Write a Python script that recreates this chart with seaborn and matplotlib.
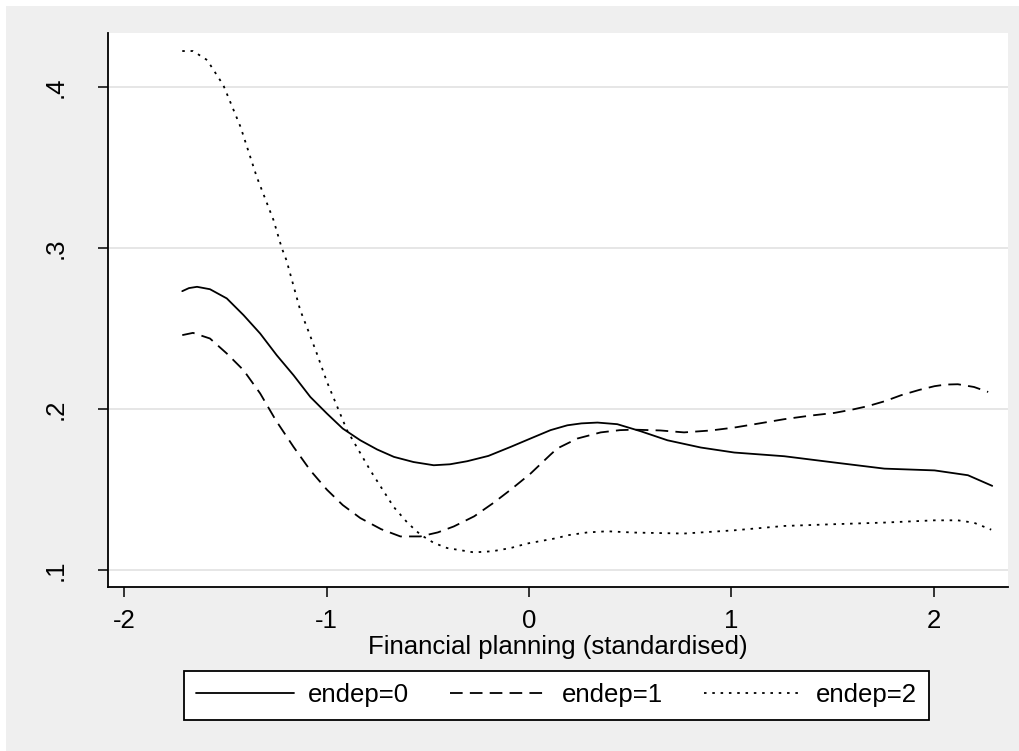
import pandas as pd
import matplotlib
matplotlib.use("Agg")
import matplotlib.pyplot as plt
from matplotlib.patches import Rectangle
import seaborn as sns

# values
x_endep0 = [-1.713, -1.68, -1.64, -1.576, -1.493, -1.41, -1.328, -1.246, -1.163, -1.08,
            -0.998, -0.92, -0.833, -0.75, -0.667, -0.57, -0.47, -0.39, -0.305, -0.2,
            -0.09, 0.008, 0.107, 0.19, 0.26, 0.339, 0.437, 0.553, 0.685, 0.85,
            1.015, 1.262, 1.51, 1.757, 2.005, 2.17, 2.29]
y_endep0 = [0.2733, 0.2752, 0.276, 0.2745, 0.2688, 0.2584, 0.247, 0.2335, 0.2211, 0.2076,
            0.1973, 0.188, 0.1807, 0.175, 0.1704, 0.1672, 0.1652, 0.1658, 0.1677, 0.171,
            0.1766, 0.1818, 0.187, 0.190, 0.1912, 0.1917, 0.1907, 0.1863, 0.1807, 0.1762,
            0.1731, 0.1708, 0.1669, 0.1631, 0.162, 0.159, 0.1524]

x_endep1 = [-1.713, -1.66, -1.576, -1.493, -1.41, -1.328, -1.25, -1.163, -1.08, -0.998,
            -0.92, -0.833, -0.73, -0.635, -0.536, -0.45, -0.371, -0.27, -0.173, -0.09,
            0.008, 0.107, 0.14, 0.24, 0.355, 0.45, 0.52, 0.65, 0.767, 0.9,
            1.015, 1.14, 1.262, 1.39, 1.51, 1.6, 1.675, 1.76, 1.84, 1.93,
            2.005, 2.06, 2.12, 2.2, 2.27]
y_endep1 = [0.246, 0.2474, 0.2439, 0.2346, 0.2242, 0.2098, 0.193, 0.1766, 0.162, 0.150,
            0.1405, 0.1324, 0.1255, 0.121, 0.121, 0.1235, 0.1272, 0.1335, 0.142, 0.150,
            0.160, 0.1718, 0.1756, 0.1818, 0.1856, 0.187, 0.1873, 0.1868, 0.1856, 0.1868,
            0.1886, 0.1912, 0.1938, 0.196, 0.1977, 0.1998, 0.2019, 0.205, 0.2087, 0.212,
            0.2143, 0.2153, 0.2155, 0.2138, 0.2107]

x_endep2 = [-1.713, -1.66, -1.59, -1.51, -1.425, -1.345, -1.262, -1.221, -1.198, -1.13,
            -1.088, -1.048, -0.998, -0.899, -0.784, -0.668, -0.6, -0.536, -0.47, -0.404,
            -0.272, -0.18, -0.09, -0.008, 0.14, 0.19, 0.29, 0.388, 0.52, 0.767,
            1.015, 1.262, 1.51, 1.757, 2.005, 2.12, 2.2, 2.285]
y_endep2 = [0.4224, 0.4224, 0.4168, 0.4012, 0.3753, 0.3443, 0.3174, 0.300, 0.2925, 0.2615,
            0.248, 0.2346, 0.217, 0.187, 0.1621, 0.1393, 0.1295, 0.1221, 0.117, 0.1138,
            0.1111, 0.1118, 0.1138, 0.1166, 0.120, 0.1217, 0.1235, 0.1242, 0.1234, 0.1228,
            0.1248, 0.1275, 0.1286, 0.1296, 0.131, 0.131, 0.1295, 0.1252]

group_labels = ["endep=0", "endep=1", "endep=2"]
x_ticks = [-2, -1, 0, 1, 2]
y_ticks = [0.1, 0.2, 0.3, 0.4]

df = pd.concat([
    pd.DataFrame({"x": x_endep0, "y": y_endep0, "group": group_labels[0]}),
    pd.DataFrame({"x": x_endep1, "y": y_endep1, "group": group_labels[1]}),
    pd.DataFrame({"x": x_endep2, "y": y_endep2, "group": group_labels[2]}),
])

sns.set_style("white")
plt.rcParams["font.family"] = ["Liberation Sans", "DejaVu Sans"]
plt.rcParams["text.color"] = "black"
plt.rcParams["axes.labelcolor"] = "black"
plt.rcParams["xtick.color"] = "black"
plt.rcParams["ytick.color"] = "black"

fig = plt.figure(figsize=(10.2, 7.51), dpi=100, facecolor="white")
# grey panel with a thin white margin on top and left
fig.patches.append(Rectangle((6 / 1020, -0.1), 1.2, 1.1 - 6 / 751, transform=fig.transFigure,
                             facecolor="#efefef", edgecolor="none", zorder=-10))
ax = fig.add_axes([108 / 1020, 1 - 587 / 751, 900 / 1020, 554 / 751])
ax.set_facecolor("white")

sns.lineplot(data=df, x="x", y="y", style="group", style_order=group_labels,
             dashes={"endep=0": "", "endep=1": (7, 4), "endep=2": (1.4, 3.2)},
             color="black", linewidth=1.3, estimator=None, sort=False, ax=ax)

ax.set_xlim(-2.08, 2.368)
ax.set_ylim(0.0896, 0.4336)
ax.set_xticks(x_ticks)
ax.set_xticklabels([str(t) for t in x_ticks])
ax.set_yticks(y_ticks)
ax.set_yticklabels([f"{t:.1f}".lstrip("0") for t in y_ticks], rotation=90, va="center")
ax.yaxis.grid(True, color="#e4e4e4", linewidth=1.3)
ax.xaxis.grid(False)
ax.tick_params(axis="both", direction="out", length=7, width=1.1, color="black",
               labelcolor="black", labelsize=18.5, bottom=True, left=True)
ax.tick_params(axis="x", pad=9)
ax.tick_params(axis="y", pad=22)
for side in ["top", "right"]:
    ax.spines[side].set_visible(False)
for side in ["left", "bottom"]:
    ax.spines[side].set_color("black")
    ax.spines[side].set_linewidth(1.3)

ax.set_xlabel("Financial planning (standardised)", fontsize=18.5, labelpad=1, color="black")
ax.set_ylabel("")

sns.move_legend(ax, "center", bbox_to_anchor=(556.6 / 1020, 1 - 695.4 / 751),
                bbox_transform=fig.transFigure, ncol=3, title=None, frameon=True,
                fontsize=18.5, handlelength=3.8, handletextpad=0.55, columnspacing=1.6,
                fancybox=False, edgecolor="black", framealpha=1, borderpad=0.48)
leg = ax.get_legend()
leg.get_frame().set_linewidth(1.3)
for t in leg.get_texts():
    t.set_color("black")

fig.savefig("out.png", dpi=100, facecolor=fig.get_facecolor())
